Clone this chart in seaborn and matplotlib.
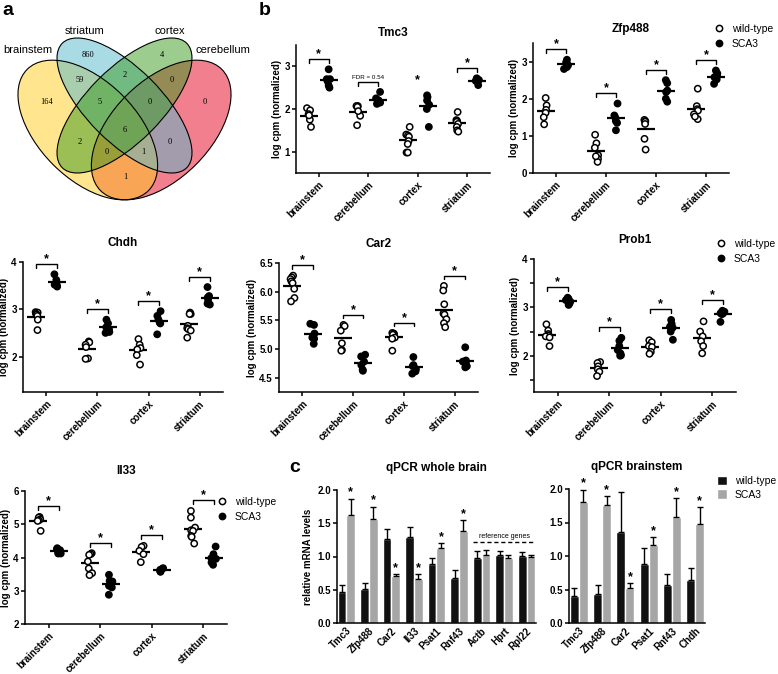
import warnings
import numpy as np
import pandas as pd
import matplotlib
matplotlib.use("Agg")
import matplotlib.pyplot as plt
from matplotlib.patches import Ellipse, Patch
from matplotlib.lines import Line2D
from matplotlib.ticker import FormatStrFormatter
import seaborn as sns

warnings.filterwarnings("ignore")
np.random.seed(7)  # fixed jitter for the dot columns

W, H = 778, 674

tissues = ["brainstem", "cerebellum", "cortex", "striatum"]
genotypes = ["wild-type", "SCA3"]

# venn counts (panel a)
venn_sets = ["brainstem", "striatum", "cortex", "cerebellum"]
venn_regions = ["bs", "st", "cx", "cb", "bs&st", "st&cx", "cx&cb", "bs&st&cx",
                "st&cx&cb", "all", "bs&cx", "bs&cx&cb", "bs&st&cb", "st&cb", "bs&cb"]
venn_counts = [164, 860, 4, 0, 59, 2, 0, 5, 0, 6, 2, 0, 1, 0, 1]

# log cpm (normalized), one list per tissue: brainstem, cerebellum, cortex, striatum
tmc3_wt = [[2.02, 1.97, 1.88, 1.75, 1.58, 1.85],
           [2.07, 2.07, 2.05, 1.84, 1.62, 1.95],
           [1.58, 1.40, 1.38, 1.35, 1.25, 1.18, 0.98, 0.98],
           [1.93, 1.74, 1.72, 1.70, 1.65, 1.58, 1.50, 1.47]]
tmc3_sca3 = [[2.93, 2.70, 2.65, 2.55, 2.50, 2.70],
             [2.40, 2.25, 2.20, 2.15, 2.12, 2.20],
             [2.32, 2.28, 2.20, 2.10, 1.58, 2.00],
             [2.72, 2.68, 2.66, 2.56, 2.70]]

zfp488_wt = [[2.02, 1.82, 1.70, 1.62, 1.50, 1.31],
             [1.03, 0.80, 0.68, 0.48, 0.38, 0.30, 0.45],
             [1.43, 1.40, 1.38, 1.32, 0.92, 0.63],
             [2.27, 1.80, 1.72, 1.68, 1.58, 1.45, 1.52]]
zfp488_sca3 = [[3.05, 2.98, 2.95, 2.90, 2.85, 2.80],
               [1.87, 1.55, 1.50, 1.40, 1.35, 1.15],
               [2.50, 2.42, 2.22, 2.18, 2.00, 1.92],
               [2.76, 2.68, 2.62, 2.58, 2.52, 2.40]]

chdh_wt = [[2.94, 2.93, 2.91, 2.89, 2.86, 2.78, 2.56],
           [2.32, 2.30, 2.25, 2.20, 1.96, 1.95],
           [2.37, 2.25, 2.18, 2.15, 2.03, 1.83],
           [2.93, 2.90, 2.90, 2.65, 2.60, 2.58, 2.55, 2.40]]
chdh_sca3 = [[3.74, 3.62, 3.56, 3.52, 3.50, 3.48],
             [2.78, 2.70, 2.62, 2.58, 2.52, 2.50],
             [2.96, 2.86, 2.78, 2.72, 2.70, 2.47],
             [3.47, 3.28, 3.25, 3.20, 3.12, 3.10]]

car2_wt = [[6.28, 6.25, 6.22, 6.18, 6.15, 6.05, 5.89, 5.83],
           [5.42, 5.40, 5.32, 5.10, 4.98, 4.97],
           [5.28, 5.27, 5.26, 5.25, 5.20, 5.18, 4.97],
           [6.10, 6.02, 5.78, 5.62, 5.60, 5.52, 5.45, 5.38]]
car2_sca3 = [[5.44, 5.42, 5.27, 5.20, 5.09, 5.18],
             [4.90, 4.87, 4.78, 4.72, 4.64, 4.62],
             [4.86, 4.72, 4.70, 4.65, 4.61, 4.57],
             [5.03, 4.80, 4.78, 4.76, 4.70, 4.68]]

prob1_wt = [[2.65, 2.52, 2.45, 2.42, 2.40, 2.38, 2.20],
            [1.87, 1.85, 1.78, 1.72, 1.67, 1.58],
            [2.32, 2.28, 2.20, 2.18, 2.08, 2.04],
            [2.71, 2.50, 2.40, 2.30, 2.20, 2.05]]
prob1_sca3 = [[3.20, 3.18, 3.15, 3.12, 3.08, 3.05],
              [2.37, 2.31, 2.20, 2.12, 2.05, 2.01, 2.00],
              [2.74, 2.66, 2.60, 2.58, 2.50, 2.33],
              [2.93, 2.91, 2.88, 2.87, 2.86, 2.70]]

il33_wt = [[5.22, 5.20, 5.15, 5.12, 5.10, 4.80],
           [4.13, 4.10, 4.08, 3.88, 3.67, 3.53, 3.47],
           [4.35, 4.32, 4.20, 4.10, 3.86],
           [5.40, 5.20, 4.90, 4.82, 4.80, 4.65, 4.62, 4.42]]
il33_sca3 = [[4.28, 4.25, 4.22, 4.18, 4.15, 4.12, 4.12],
             [3.48, 3.30, 3.28, 3.15, 3.10, 2.88],
             [3.68, 3.66, 3.63, 3.60, 3.58, 3.57],
             [4.33, 4.10, 3.98, 3.96, 3.85, 3.78]]

# qPCR relative mRNA levels (mean and upper error)
wb_genes = ["Tmc3", "Zfp488", "Car2", "Il33", "Psat1", "Rnf43", "Actb", "Hprt", "Rpl22"]
wb_wt = [0.47, 0.51, 1.27, 1.30, 0.89, 0.67, 0.98, 1.02, 1.01]
wb_wt_err = [0.10, 0.09, 0.14, 0.14, 0.08, 0.13, 0.10, 0.06, 0.06]
wb_sca3 = [1.63, 1.57, 0.70, 0.66, 1.13, 1.39, 1.03, 0.98, 0.99]
wb_sca3_err = [0.24, 0.18, 0.03, 0.07, 0.07, 0.16, 0.07, 0.04, 0.04]
wb_sig = [True, True, True, True, True, True, False, False, False]

bs_genes = ["Tmc3", "Zfp488", "Car2", "Psat1", "Rnf43", "Chdh"]
bs_wt = [0.40, 0.43, 1.36, 0.88, 0.57, 0.64]
bs_wt_err = [0.12, 0.13, 0.60, 0.24, 0.16, 0.18]
bs_sca3 = [1.80, 1.76, 0.52, 1.17, 1.58, 1.48]
bs_sca3_err = [0.19, 0.14, 0.08, 0.11, 0.29, 0.25]
bs_sig = [True, True, True, True, True, True]

sns.set_style("ticks")
plt.rcParams["font.family"] = ["Liberation Sans", "DejaVu Sans"]
plt.rcParams.update({
    "font.weight": "bold",
    "text.color": "black",
    "axes.edgecolor": "black",
    "axes.labelcolor": "black",
    "axes.linewidth": 1.1,
    "axes.labelsize": 7,
    "axes.labelweight": "bold",
    "axes.titlesize": 8.5,
    "axes.titleweight": "bold",
    "xtick.color": "black",
    "ytick.color": "black",
    "xtick.labelsize": 7,
    "ytick.labelsize": 7,
    "xtick.major.size": 3,
    "ytick.major.size": 3,
    "xtick.major.pad": 2,
    "ytick.major.pad": 1.5,
    "xtick.major.width": 1.1,
    "ytick.major.width": 1.1,
})

fig = plt.figure(figsize=(W / 100, H / 100), dpi=100)


def px_axes(x0, y0, x1, y1):
    return fig.add_axes([x0 / W, 1 - y1 / H, (x1 - x0) / W, (y1 - y0) / H])


def legend_at(ax, rect, lx, ly, handles, square=False):
    x0, y0, x1, y1 = rect
    ax.legend(handles=handles, loc="upper left",
              bbox_to_anchor=((lx - x0) / (x1 - x0), (y1 - ly) / (y1 - y0)),
              frameon=False, prop={"size": 7.5, "weight": "normal"},
              handlelength=1.0, handleheight=1.0 if square else 0.7,
              handletextpad=0.7, labelspacing=0.45 if not square else 0.3,
              borderpad=0, borderaxespad=0)


dot_handles = [
    Line2D([], [], marker="o", ls="none", mfc="white", mec="black", mew=1.1, ms=4.5, label="wild-type"),
    Line2D([], [], marker="o", ls="none", mfc="black", mec="black", mew=1.1, ms=4.5, label="SCA3"),
]


def scatter_panel(rect, title, wt, sca3, ylim, yticks, marks, brackets, pad, leg=None, fmt=None):
    ax = px_axes(*rect)
    rows = [(t, g, v) for g, grp in zip(genotypes, (wt, sca3))
            for t, vals in zip(tissues, grp) for v in vals]
    df = pd.DataFrame(rows, columns=["tissue", "genotype", "value"])
    sns.stripplot(data=df, x="tissue", y="value", hue="genotype", order=tissues,
                  hue_order=genotypes, dodge=True, jitter=0.09,
                  palette={"wild-type": "white", "SCA3": "black"},
                  edgecolor="black", linewidth=1.1, size=4.5, legend=False, ax=ax)
    sns.pointplot(data=df, x="tissue", y="value", hue="genotype", order=tissues,
                  hue_order=genotypes, dodge=0.4, palette=["black", "black"],
                  errorbar=None, marker="_", linestyle="none", markersize=13,
                  markeredgewidth=1.6, legend=False, ax=ax)
    ax.set_xlim(-0.46, 3.46)
    ax.set_ylim(*ylim)
    ax.set_yticks(yticks)
    if fmt:
        ax.yaxis.set_major_formatter(FormatStrFormatter(fmt))
    ax.set_xticks(range(len(tissues)))
    ax.set_xticklabels(tissues, rotation=45, ha="right", rotation_mode="anchor")
    ax.set_xlabel("")
    ax.set_ylabel("log cpm (normalized)", labelpad=1.5)
    ax.set_title(title, pad=pad)
    sns.despine(ax=ax)
    rng = ylim[1] - ylim[0]
    for i, (m, b) in enumerate(zip(marks, brackets)):
        top = max(max(wt[i]), max(sca3[i])) + 0.08 * rng
        if b:
            ax.plot([i - 0.2, i - 0.2, i + 0.2, i + 0.2],
                    [top - 0.03 * rng, top, top, top - 0.03 * rng],
                    color="black", lw=1)
        if m == "*":
            ax.text(i, top - 0.01 * rng, "*", ha="center", va="bottom", fontsize=9)
        else:
            ax.text(i, top + 0.01 * rng, m, ha="center", va="bottom",
                    fontsize=4.5, fontweight="normal")
    if leg:
        legend_at(ax, rect, leg[0], leg[1], dot_handles)
    return ax


bar_colors = {"wild-type": "#111111", "SCA3": "#a6a6a6"}


def qpcr_panel(rect, title, genes, wt, wt_err, sca3, sca3_err, sig, ylabel, pad, leg=None):
    ax = px_axes(*rect)
    df = pd.DataFrame({"gene": genes * 2,
                       "genotype": ["wild-type"] * len(genes) + ["SCA3"] * len(genes),
                       "level": wt + sca3})
    sns.barplot(data=df, x="gene", y="level", hue="genotype", order=genes,
                hue_order=genotypes, palette=bar_colors, errorbar=None,
                width=0.78, legend=False, ax=ax)
    pos = {}
    for p in ax.patches:
        c = p.get_x() + p.get_width() / 2
        i = int(round(c))
        pos[(i, "wild-type" if c < i else "SCA3")] = (c, p.get_height(), p.get_width())
    for i in range(len(genes)):
        for g, errs in (("wild-type", wt_err), ("SCA3", sca3_err)):
            c, h, w = pos[(i, g)]
            ax.errorbar([c], [h], yerr=[[0], [errs[i]]], fmt="none", ecolor="black",
                        elinewidth=1, capsize=2, capthick=1)
        if sig[i]:
            c, h, w = pos[(i, "SCA3")]
            ax.text(c, h + sca3_err[i], "*", ha="center", va="bottom", fontsize=9)
    ax.set_ylim(0, 2.0)
    ax.set_yticks([0, 0.5, 1.0, 1.5, 2.0])
    ax.yaxis.set_major_formatter(FormatStrFormatter("%.1f"))
    ax.set_xlim(-0.42, len(genes) - 0.58)
    ax.set_xticks(range(len(genes)))
    ax.set_xticklabels(genes, rotation=45, ha="right", rotation_mode="anchor")
    ax.tick_params(axis="x", length=0)
    ax.set_xlabel("")
    ax.set_ylabel(ylabel, labelpad=3)
    ax.set_title(title, pad=pad)
    sns.despine(ax=ax)
    if leg:
        handles = [Patch(facecolor=bar_colors[g], label=g) for g in genotypes]
        legend_at(ax, rect, leg[0], leg[1], handles, square=True)
    return ax, pos


# panel a: Venn diagram
va = px_axes(0, 0, 255, 215)
va.set_xlim(0, 255)
va.set_ylim(215, 0)
va.axis("off")
venn_shapes = {
    "cerebellum": ((161.2, 130), 171.5, 98, -45, "#e6001e"),
    "brainstem": ((87.8, 130), 171.5, 98, 45, "#ffcd1e"),
    "striatum": ((124.5, 105.5), 176, 74, 45, "#55b9cd"),
    "cortex": ((124.5, 105.5), 176, 74, -45, "#3a9a1e"),
}
for name in ["cerebellum", "brainstem", "striatum", "cortex"]:
    c, w, h, ang, col = venn_shapes[name]
    va.add_patch(Ellipse(c, w, h, angle=ang, facecolor=col, alpha=0.5, lw=0))
for name in venn_sets:
    c, w, h, ang, col = venn_shapes[name]
    va.add_patch(Ellipse(c, w, h, angle=ang, fill=False, edgecolor="black", lw=0.8))
venn_pos = [(47, 102), (88, 55), (162, 55), (205, 102), (80, 80), (125, 75), (172, 80),
            (100, 102), (150, 102), (125, 130), (80, 142), (107, 152), (143, 152),
            (170, 142), (125, 177)]
for (x, y), n in zip(venn_pos, venn_counts):
    va.text(x, y, str(n), ha="center", va="center", fontsize=6,
            family="Liberation Serif", fontweight="normal")
venn_label_pos = [(28, 50), (85, 31), (170, 31), (223, 50)]
for (x, y), s in zip(venn_label_pos, venn_sets):
    va.text(x, y, s, ha="center", va="center", fontsize=8, fontweight="normal")

# panel b
scatter_panel((296, 45, 490, 173), "Tmc3", tmc3_wt, tmc3_sca3, (0.5, 3.5), [1, 2, 3],
              ["*", "FDR = 0.54", "*", "*"], [True, True, False, True], pad=6.5)
scatter_panel((533, 43, 729, 173), "Zfp488", zfp488_wt, zfp488_sca3, (0, 3.5), [0, 1, 2, 3],
              ["*"] * 4, [True] * 4, pad=8, leg=(714, 24))
scatter_panel((23, 262, 223, 392), "Chdh", chdh_wt, chdh_sca3, (1.25, 4), [2, 3, 4],
              ["*"] * 4, [True] * 4, pad=11.5)
scatter_panel((279, 263, 478, 392), "Car2", car2_wt, car2_sca3, (4.25, 6.5),
              [4.5, 5.0, 5.5, 6.0, 6.5], ["*"] * 4, [True] * 4, pad=11.5, fmt="%.1f")
ax_p = scatter_panel((534, 259, 736, 392), "Prob1", prob1_wt, prob1_sca3, (1.25, 4), [2, 3, 4],
                     ["*"] * 4, [True] * 4, pad=11.5, leg=(716, 239))
ax_p.set_yticks([1.5, 2.5, 3.5], minor=True)
ax_p.tick_params(axis="y", which="minor", length=3, width=1.1)
scatter_panel((25, 491, 227, 624), "Il33", il33_wt, il33_sca3, (2, 6), [2, 3, 4, 5, 6],
              ["*"] * 4, [True] * 4, pad=12, leg=(217, 497))

# panel c
ax_wb, pos_wb = qpcr_panel((337, 490, 536, 623), "qPCR whole brain", wb_genes, wb_wt, wb_wt_err,
                           wb_sca3, wb_sca3_err, wb_sig, "relative mRNA levels", pad=13.5)
x_left = pos_wb[(6, "wild-type")][0] - pos_wb[(6, "wild-type")][2] / 2
x_right = pos_wb[(8, "SCA3")][0] + pos_wb[(8, "SCA3")][2] / 2
ax_wb.plot([x_left, x_right], [1.22, 1.22], color="black", lw=1, ls=(0, (3, 2)))
ax_wb.text((x_left + x_right) / 2, 1.25, "reference genes", ha="center", va="bottom",
           fontsize=5, fontweight="normal")
qpcr_panel((569, 489, 705, 623), "qPCR brainstem", bs_genes, bs_wt, bs_wt_err,
           bs_sca3, bs_sca3_err, bs_sig, "", pad=13.5, leg=(717, 476))

# panel letters
for s, x, y in [("a", 2, 2), ("b", 259, 2), ("c", 289, 459)]:
    fig.text(x / W, 1 - y / H, s, fontsize=14, fontweight="bold", va="top", ha="left")

fig.savefig("out.png", dpi=100)
